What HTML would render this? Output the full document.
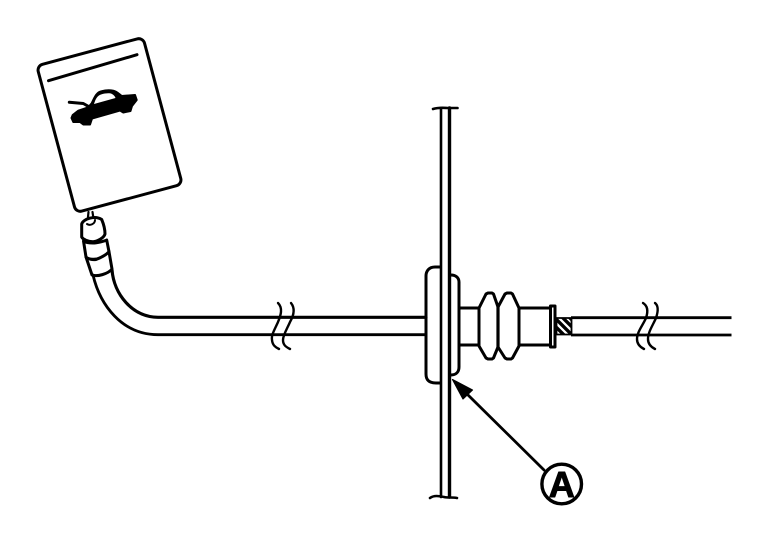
<!DOCTYPE html>
<html>
<head>
<meta charset="utf-8">
<style>
html,body{margin:0;padding:0;background:#fff;width:768px;height:544px;overflow:hidden}
svg{display:block}
text{font-family:"Liberation Sans",sans-serif}
</style>
</head>
<body>
<svg width="768" height="544" viewBox="0 0 768 544" fill="none" stroke="#000" stroke-width="3" stroke-linecap="round" stroke-linejoin="round">
<defs><clipPath id="h"><rect x="556" y="318" width="16" height="17"/></clipPath></defs>

<!-- Card -->
<rect x="54.500" y="49" width="110" height="152" rx="6" transform="rotate(-15 109.500 125)" fill="#fff"/>
<path d="M48.500 80.700L137 54.700"/>
<path d="M72.700 115L78.300 110.700L88.300 107.300L91.700 103.300C95 96 97 92 101.700 91.200C106 90 110 90 113.300 90.700C117 91.500 119 94 121.700 96L135 95L136.700 100L132 106L130.500 111L123.300 112.500L120 110.500L92 118.500L90 124.500L83.300 124.500L80 122L73.300 122L71.500 118Z" fill="#000" stroke="#000" stroke-width="2"/>
<path d="M94 104C95.500 99 97.500 95.500 101 94.500C106 93 110 93 112 94C114 95 115 96.500 115.500 98Z" fill="#fff" stroke="none"/>
<path d="M69.300 102.300L83.300 103.500L90 107.300"/>

<!-- Connector -->
<path d="M88.500 212L87.500 222M92.500 212L94 222" stroke-width="2.200"/>
<path d="M81.700 237L81.700 224C83 219 95 215 101.700 219.500C104 225 105 229 105 234C104 238 97 241.500 93 241.700C88 241.500 83 239.500 81.700 237Z" fill="#fff"/>
<path d="M87 224C90 226 95 224 95 220" stroke-width="2"/>
<path d="M83.500 241L86 257C89 260 96 259.500 100 258.500C104 257 108 254 109 251.700L106.700 240C105 241 97 243 93 243C88 243 85 242 83.500 241Z" fill="#fff"/>
<path d="M86 257L92 275C97 277 108 274 112 269L109 251.700C106 255 100 258 96 259.500C92 260 88 259 86 257Z" fill="#fff"/>

<!-- Left cable -->
<path d="M112 270C114 294 132 317 158 317.300L426 317.300" stroke-width="3.200"/>
<path d="M93 275C100 305 122 334.700 158 334.700L426 334.700" stroke-width="2.800"/>

<!-- Breaks -->
<path d="M278 303C283 308 281 315 278 322C275 329 271 335 272 340C272.500 345 275 347 279 349" stroke-width="2.400"/>
<path d="M291 303C295 308 294 315 290 322C287 329 283 335 283 340C283 345 286 347 290 349" stroke-width="2.400"/>

<!-- Plate -->
<path d="M441 108L441 497" stroke-width="2.600"/>
<path d="M449.500 108L449.500 497" stroke-width="3.400"/>
<path d="M433 109C439 107 445 108 449 108C452 108 455 108 457.500 108" stroke-width="2.600"/>
<path d="M430 498C434 495 439 496 444 497C448 498 452 497 457 498" stroke-width="2.600"/>

<!-- Grommet -->
<path d="M440 267L435 267C429 267 426 271 426 276L426 374C426 380 429 383 436 383L440 383"/>
<path d="M451 275C456 275 459 278 459 282L459 367C459 372 456 375 451 375"/>

<!-- Boot -->
<path d="M459 308L479 308M459 345L479 345"/>
<path d="M479 308L486 294L488 293L492 293L493.500 294L498 307L505 294L507 293L511 293L512.500 294L519 308L519 346L512.500 358L511 359L507 359L505 358L498 347L493.500 358L492 359L488 359L486 358L479 346Z"/>
<path d="M498 307L498 347" stroke-width="3.200"/>
<path d="M519 308L549 308M519 345L549 345"/>
<rect x="550.500" y="306" width="4.500" height="41" fill="#fff"/>

<!-- Hatch -->
<g clip-path="url(#h)">
<path d="M552 323L564 335M552 315L572 335M560 315L574 329M567 315L576 324" stroke-width="3.400" stroke-linecap="butt"/>
</g>
<path d="M556.500 318L571.500 318L571.500 334.500L556.500 334.500Z" stroke-width="1.800"/>

<!-- Right cable -->
<path d="M571 317.700L731.500 317.700M571 335L731.500 335" stroke-width="2.800" stroke-linecap="butt"/>
<path d="M643 303C648 306 648 312 646 318C643 325 637 332 637 339C637 344 640 347 644 349" stroke-width="2.400"/>
<path d="M655 303C659 306 658 312 656 318C653 325 648 332 648 339C648 344 651 347 655 349" stroke-width="2.400"/>

<!-- Leader -->
<path d="M466 393L544 470" stroke-width="2.800"/>
<path d="M452.500 379.500L472.500 390L463 399Z" fill="#000" stroke-width="1.200"/>
<circle cx="561.700" cy="484" r="19.800" stroke-width="3.400" fill="#fff"/>
<text x="561.700" y="497" font-size="36" font-weight="700" text-anchor="middle" fill="#000" stroke="#000" stroke-width="1">A</text>
</svg>
</body>
</html>
